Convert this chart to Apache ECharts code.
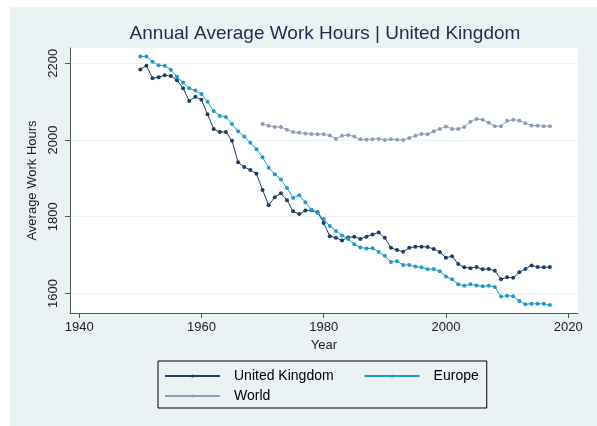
<!DOCTYPE html>
<html>
<head>
<meta charset="utf-8">
<script src="https://cdn.jsdelivr.net/npm/echarts@6/dist/echarts.min.js"></script>
<style>html,body{margin:0;padding:0;background:#fff}#c{width:597px;height:426px}</style>
</head>
<body>
<div id="c"></div>
<script>
var ukYears = [1950,1951,1952,1953,1954,1955,1956,1957,1958,1959,1960,1961,1962,1963,1964,1965,1966,1967,1968,1969,1970,1971,1972,1973,1974,1975,1976,1977,1978,1979,1980,1981,1982,1983,1984,1985,1986,1987,1988,1989,1990,1991,1992,1993,1994,1995,1996,1997,1998,1999,2000,2001,2002,2003,2004,2005,2006,2007,2008,2009,2010,2011,2012,2013,2014,2015,2016,2017];
var ukHours = [2184,2194,2161,2164,2169,2167,2156,2135,2102,2113,2105,2067,2029,2021,2021,1998,1942,1930,1922,1912,1870,1830,1851,1861,1843,1814,1807,1816,1817,1812,1784,1749,1745,1738,1746,1748,1742,1748,1754,1759,1745,1719,1713,1709,1719,1722,1722,1721,1716,1708,1693,1697,1677,1668,1666,1669,1663,1664,1659,1637,1642,1641,1655,1664,1673,1669,1668,1669];
var euHours = [2218,2218,2204,2195,2194,2183,2165,2150,2135,2129,2120,2100,2076,2063,2060,2042,2023,2009,1993,1976,1955,1928,1911,1897,1875,1849,1856,1838,1818,1810,1794,1776,1763,1751,1742,1728,1720,1717,1718,1708,1698,1682,1684,1674,1674,1670,1668,1663,1664,1658,1644,1637,1624,1620,1624,1621,1619,1620,1617,1592,1594,1593,1580,1572,1573,1573,1573,1570];
var worldYears = [1970,1971,1972,1973,1974,1975,1976,1977,1978,1979,1980,1981,1982,1983,1984,1985,1986,1987,1988,1989,1990,1991,1992,1993,1994,1995,1996,1997,1998,1999,2000,2001,2002,2003,2004,2005,2006,2007,2008,2009,2010,2011,2012,2013,2014,2015,2016,2017];
var worldHours = [2042,2037,2034,2034,2027,2021,2019,2017,2016,2015,2015,2012,2003,2011,2013,2009,2002,2001,2002,2003,2000,2002,2001,2000,2005,2011,2016,2015,2023,2029,2035,2029,2029,2034,2048,2055,2053,2045,2036,2036,2050,2053,2051,2044,2038,2037,2036,2036];
var xTicks = [1940,1960,1980,2000,2020];
var yTicks = [1600,1800,2000,2200];

function pairs(xs, ys){ return xs.map(function(x,i){ return [x, ys[i]]; }); }
function plain(v){ return String(Math.round(v)); }

var ukColor = '#1c3f63', euColor = '#1e9bcb', worldColor = '#8c9fb6';
var chart = echarts.init(document.getElementById('c'), null, {renderer:'canvas'});
var font = 'Liberation Sans, Arial, sans-serif';
chart.setOption({
  animation: false,
  backgroundColor: '#ffffff',
  graphic: [{type:'rect', shape:{x:10,y:7,width:600,height:430}, style:{fill:'#eaf2f3'}, z:-10, silent:true}],
  title: {text:'Annual Average Work Hours | United Kingdom', left:320, top:19, textAlign:'center',
    textStyle:{fontFamily:font, fontSize:19, fontWeight:'normal', color:'#1e2d4e'}},
  grid: {left:70, right:19, top:48, bottom:113, show:true, backgroundColor:'#ffffff', borderWidth:0},
  legend: [{
    data:['United Kingdom','Europe'], left:158, top:361, orient:'horizontal',
    padding:[8,8,25,6], borderColor:'#000', borderWidth:1, itemWidth:55, itemHeight:4, itemGap:30,
    textStyle:{fontFamily:font, fontSize:14, color:'#000', padding:[0,0,0,9]}, selectedMode:false
  },{
    data:['World'], left:158, top:389, padding:[0,6,0,6], itemWidth:55, itemHeight:4,
    textStyle:{fontFamily:font, fontSize:14, color:'#000', padding:[0,0,0,9]}, selectedMode:false
  }],
  xAxis: {type:'value', min:1938.5, max:2021.6, name:'Year', nameLocation:'middle', nameGap:23,
    nameTextStyle:{fontFamily:font, fontSize:13, color:'#222'},
    axisLine:{lineStyle:{color:'#555', width:1}},
    axisTick:{show:true, length:5, customValues:xTicks, lineStyle:{color:'#555'}},
    axisLabel:{customValues:xTicks, formatter:plain, margin:8, fontFamily:font, fontSize:13, color:'#222'},
    splitLine:{show:false}},
  yAxis: {type:'value', min:1549, max:2240, name:'Average Work Hours', nameLocation:'middle', nameGap:22, nameRotate:90,
    nameTextStyle:{fontFamily:font, fontSize:13, color:'#222'},
    axisLine:{show:true, lineStyle:{color:'#555', width:1}},
    axisTick:{show:true, length:5, customValues:yTicks, lineStyle:{color:'#555'}},
    axisLabel:{customValues:yTicks, formatter:plain, rotate:90, margin:10, fontFamily:font, fontSize:13, color:'#222'},
    splitLine:{show:true, lineStyle:{color:'#edf2f3', width:1}}},
  series: [
    {name:'United Kingdom', type:'line', data:pairs(ukYears, ukHours), symbol:'circle', symbolSize:4, showSymbol:true,
      lineStyle:{color:ukColor, width:1}, itemStyle:{color:ukColor}},
    {name:'Europe', type:'line', data:pairs(ukYears, euHours), symbol:'circle', symbolSize:4,
      lineStyle:{color:euColor, width:1}, itemStyle:{color:euColor}},
    {name:'World', type:'line', data:pairs(worldYears, worldHours), symbol:'circle', symbolSize:4,
      lineStyle:{color:worldColor, width:1}, itemStyle:{color:worldColor}}
  ]
});
</script>
</body>
</html>
